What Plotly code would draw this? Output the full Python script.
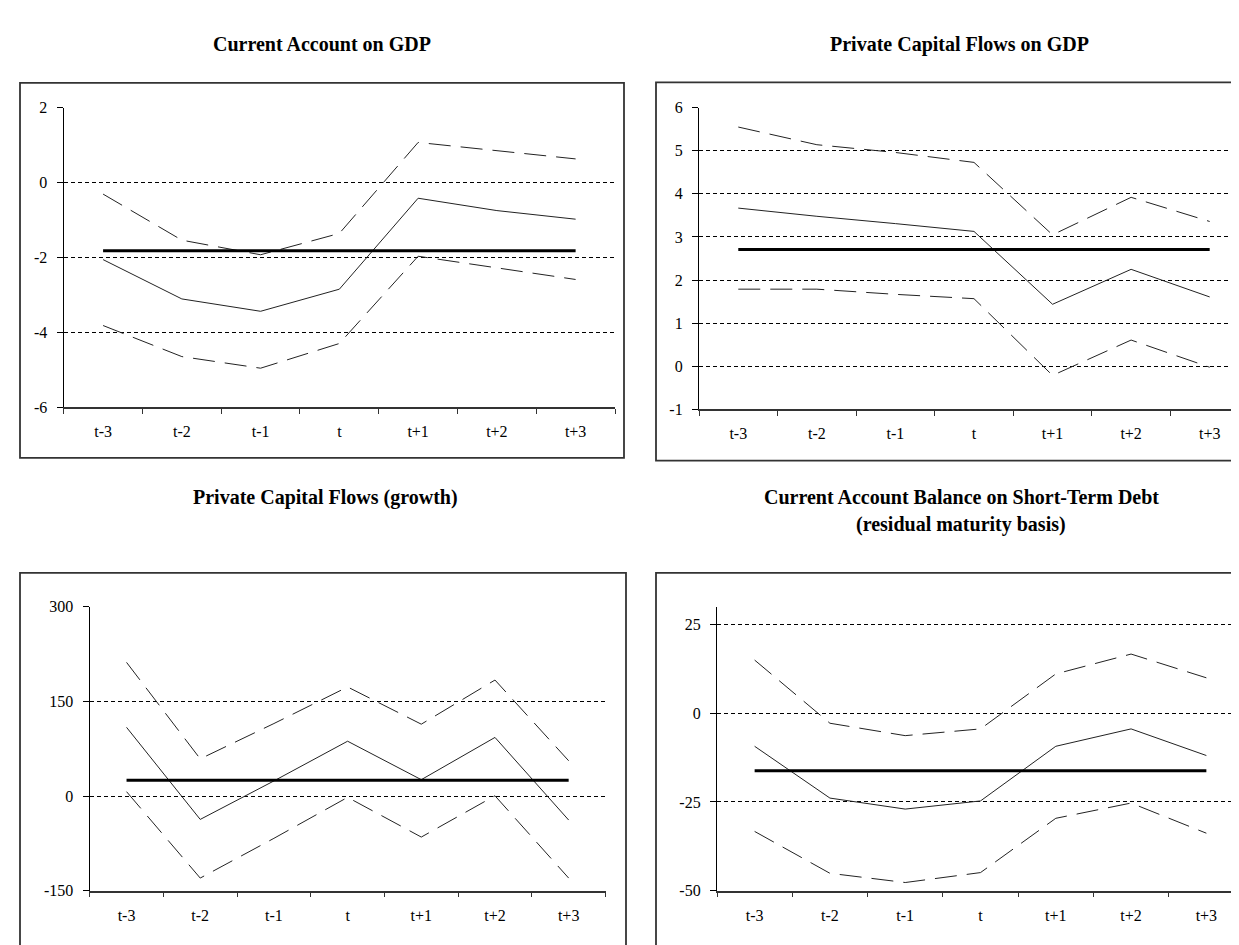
import plotly.graph_objects as go

W, H = 1239, 945

periods = ["t-3", "t-2", "t-1", "t", "t+1", "t+2", "t+3"]

# Current Account on GDP
ca_gdp_mid = [-2.06, -3.11, -3.44, -2.85, -0.42, -0.75, -0.98]
ca_gdp_hi = [-0.31, -1.54, -1.93, -1.36, 1.07, 0.86, 0.63]
ca_gdp_lo = [-3.82, -4.65, -4.96, -4.30, -1.97, -2.28, -2.59]
ca_gdp_avg = -1.82
ca_gdp_ticks = [-6, -4, -2, 0, 2]

# Private Capital Flows on GDP
pcf_gdp_mid = [3.67, 3.48, 3.31, 3.13, 1.44, 2.25, 1.61]
pcf_gdp_hi = [5.55, 5.14, 4.96, 4.73, 3.05, 3.92, 3.36]
pcf_gdp_lo = [1.79, 1.79, 1.67, 1.57, -0.21, 0.61, -0.02]
pcf_gdp_avg = 2.71
pcf_gdp_ticks = [-1, 0, 1, 2, 3, 4, 5, 6]

# Private Capital Flows (growth)
pcf_gr_mid = [109, -37, 24, 87, 26, 93, -38]
pcf_gr_hi = [212, 59, 115, 173, 114, 184, 56]
pcf_gr_lo = [7, -130, -67, -2, -65, 0.5, -130]
pcf_gr_avg = 25
pcf_gr_ticks = [-150, 0, 150, 300]

# Current Account Balance on Short-Term Debt
ca_std_mid = [-9.3, -23.9, -27.0, -24.7, -9.3, -4.4, -11.9]
ca_std_hi = [15.0, -2.8, -6.3, -4.4, 11.1, 16.7, 10.0]
ca_std_lo = [-33.3, -45.1, -47.7, -44.9, -29.6, -25.3, -33.8]
ca_std_avg = -16.2
ca_std_ticks = [-50, -25, 0, 25]

SERIF = "Liberation Serif"


def px_x(v):
    return v / W


def px_y(v):
    return 1 - v / H


# plot areas in pixels: x0, x1, y_top, y_bottom, y range, x range end
panels = [
    dict(x0=55.7, x1=607, yt=93.3, yb=398.3, yr=[-6, 2], xe=6.5,
         data=(ca_gdp_mid, ca_gdp_hi, ca_gdp_lo, ca_gdp_avg, ca_gdp_ticks),
         box=(12, 68, 616, 450)),
    dict(x0=691, x1=1239, yt=93.3, yb=400.7, yr=[-1, 6], xe=6.475,
         data=(pcf_gdp_mid, pcf_gdp_hi, pcf_gdp_lo, pcf_gdp_avg, pcf_gdp_ticks),
         box=(648, 67.5, 1260, 452.7)),
    dict(x0=81.7, x1=597.5, yt=601.7, yb=890.7, yr=[-150, 300], xe=6.5,
         data=(pcf_gr_mid, pcf_gr_hi, pcf_gr_lo, pcf_gr_avg, pcf_gr_ticks),
         box=(12, 567, 618, 970)),
    dict(x0=709, x1=1236, yt=601.7, yb=890.7, yr=[-50, 30], xe=6.5,
         data=(ca_std_mid, ca_std_hi, ca_std_lo, ca_std_avg, ca_std_ticks),
         box=(648, 567, 1260, 970)),
]

fig = go.Figure()
shapes = []

for i, p in enumerate(panels):
    n = "" if i == 0 else str(i + 1)
    xa, ya = "x" + n, "y" + n
    mid, hi, lo, avg, yticks = p["data"]

    for ys in (hi, lo):
        fig.add_trace(go.Scatter(
            x=periods, y=ys, mode="lines", xaxis=xa, yaxis=ya,
            line=dict(color="#222", width=1, dash="22px,10px"),
            showlegend=False, hoverinfo="skip",
        ))
    fig.add_trace(go.Scatter(
        x=periods, y=mid, mode="lines", xaxis=xa, yaxis=ya,
        line=dict(color="#222", width=1),
        showlegend=False, hoverinfo="skip",
    ))
    fig.add_trace(go.Scatter(
        x=[periods[0], periods[-1]], y=[avg, avg], mode="lines",
        xaxis=xa, yaxis=ya,
        line=dict(color="black", width=3),
        showlegend=False, hoverinfo="skip",
    ))

    fig.layout["xaxis" + n] = dict(
        domain=[px_x(p["x0"]), px_x(p["x1"])],
        anchor=ya, type="category", range=[-0.5, p["xe"]],
        showgrid=False, zeroline=False,
        showline=True, linecolor="#333", linewidth=1.5,
        ticks="outside", tickson="boundaries", ticklen=5,
        tickcolor="#333", tickwidth=1.3,
        ticklabelstandoff=9,
        tickfont=dict(family=SERIF, size=16, color="black"),
        fixedrange=True,
    )
    fig.layout["yaxis" + n] = dict(
        domain=[px_y(p["yb"]), px_y(p["yt"])],
        anchor=xa, range=p["yr"],
        tickmode="array", tickvals=yticks,
        ticktext=[str(v) for v in yticks],
        showgrid=True, gridcolor="black", gridwidth=1, griddash="4px,3px",
        zeroline=False,
        showline=True, linecolor="black", linewidth=1.3,
        ticks="outside", ticklen=6, tickcolor="black", tickwidth=1.2,
        ticklabelstandoff=6,
        tickfont=dict(family=SERIF, size=16, color="black"),
        fixedrange=True,
    )

    bx0, by0, bx1, by1 = p["box"]
    shapes.append(dict(
        type="rect", xref="paper", yref="paper",
        x0=px_x(bx0), x1=px_x(bx1), y0=px_y(by1), y1=px_y(by0),
        line=dict(color="#333", width=1.8), fillcolor="rgba(0,0,0,0)",
    ))

titles = [
    ("Current Account on GDP", 314, 29),
    ("Private Capital Flows on GDP", 951, 29),
    ("Private Capital Flows (growth)", 317, 490),
    ("Current Account Balance on Short-Term Debt", 953, 490),
    ("(residual maturity basis)", 953, 518),
]
annotations = [
    dict(text="<b>%s</b>" % t, x=px_x(cx), y=px_y(cy), xref="paper",
         yref="paper", xanchor="center", yanchor="middle", showarrow=False,
         font=dict(family=SERIF, size=20, color="black"))
    for t, cx, cy in titles
]

fig.update_layout(
    width=W, height=H,
    margin=dict(l=0, r=0, t=0, b=0),
    paper_bgcolor="white", plot_bgcolor="white",
    shapes=shapes, annotations=annotations,
    showlegend=False,
)

fig.write_html("out.html")
